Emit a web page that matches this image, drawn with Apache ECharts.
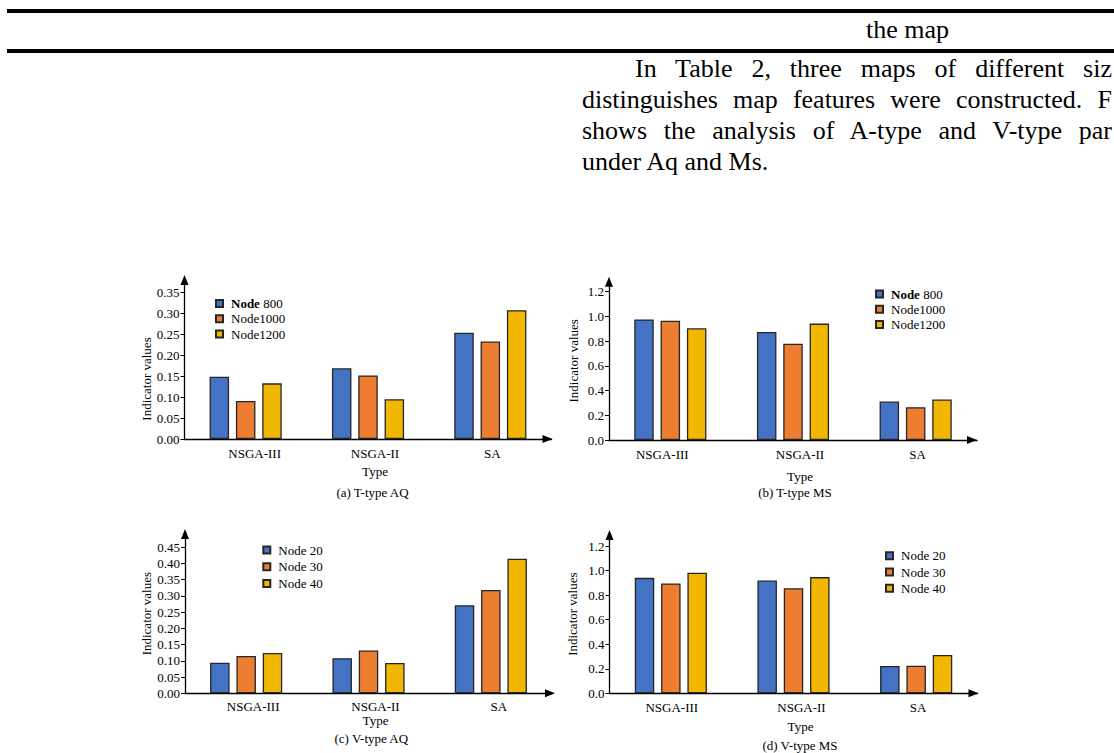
<!DOCTYPE html>
<html>
<head>
<meta charset="utf-8">
<title>Indicator values by type</title>
<script src="https://cdn.jsdelivr.net/npm/echarts@6/dist/echarts.min.js"></script>
<style>
  html, body { margin: 0; padding: 0; background: #fff; }
  body { width: 1114px; height: 753px; overflow: hidden; position: relative; }
  #chart { position: absolute; left: 0; top: 0; width: 1114px; height: 753px; }
  .rule { position: absolute; left: 7px; right: 0; height: 4px; background: #000; }
  .txt { position: absolute; font-family: "Liberation Serif", "Times New Roman", serif;
         font-size: 26px; line-height: 31px; color: #000; white-space: normal; }
  .just { text-align: justify; text-align-last: justify; }
</style>
</head>
<body>
<div id="chart"></div>

<!-- table rules and running text above the figure -->
<div class="rule" style="top:9px"></div>
<div class="txt" style="left:866px; top:14px;">the map</div>
<div class="rule" style="top:49px"></div>
<div class="txt just" style="left:635px; top:53px; width:477px;">In Table 2, three maps of different siz</div>
<div class="txt just" style="left:582px; top:84px; width:530px;">distinguishes map features were constructed. F</div>
<div class="txt just" style="left:582px; top:115px; width:530px;">shows the analysis of A-type and V-type par</div>
<div class="txt" style="left:582px; top:146px;">under Aq and Ms.</div>

<script>
// ---- data ----
const categories = ['NSGA-III', 'NSGA-II', 'SA'];

const tLegendNames = ['Node800', 'Node1000', 'Node1200'];
const vLegendNames = ['Node 20', 'Node 30', 'Node 40'];

// (a) T-type AQ
const tAqNode800  = [0.149, 0.169, 0.254];
const tAqNode1000 = [0.091, 0.152, 0.233];
const tAqNode1200 = [0.133, 0.095, 0.308];

// (b) T-type MS
const tMsNode800  = [0.975, 0.873, 0.311];
const tMsNode1000 = [0.965, 0.778, 0.265];
const tMsNode1200 = [0.903, 0.941, 0.327];

// (c) V-type AQ
const vAqNode20 = [0.094, 0.108, 0.271];
const vAqNode30 = [0.115, 0.132, 0.318];
const vAqNode40 = [0.124, 0.093, 0.414];

// (d) V-type MS
const vMsNode20 = [0.941, 0.919, 0.223];
const vMsNode30 = [0.895, 0.857, 0.225];
const vMsNode40 = [0.982, 0.947, 0.313];

// tick labels
const tAqTicks = [0, 0.05, 0.10, 0.15, 0.20, 0.25, 0.30, 0.35];
const vAqTicks = [0, 0.05, 0.10, 0.15, 0.20, 0.25, 0.30, 0.35, 0.40, 0.45];
const msTicks  = [0, 0.2, 0.4, 0.6, 0.8, 1.0, 1.2];

const captions = ['(a) T-type AQ', '(b) T-type MS', '(c) V-type AQ', '(d) V-type MS'];

// ---- styling / layout ----
const FONT = '"Liberation Serif", "Times New Roman", serif';
const INK = '#000';
const COLORS = ['#4472C4', '#ED7D31', '#F2B700'];

const panels = [
  { names: tLegendNames, series: [tAqNode800, tAqNode1000, tAqNode1200], ticks: tAqTicks, step: 0.05, digits: 2, max: 0.38,
    grid: { left: 184.5, top: 280, width: 367, height: 159 },
    xArrow: -4, catShift: [9, 7, 2], labelMargin: 8, typeGap: 26,
    yNameGap: 30, yNamePad: [0, 39, 0, 0],
    legend: { left: 215, top: 297, itemGap: 2.3 }, caption: [372.5, 492.7] },
  { names: tLegendNames, series: [tMsNode800, tMsNode1000, tMsNode1200], ticks: msTicks, step: 0.2, digits: 1, max: 1.28,
    grid: { left: 609, top: 281.7, width: 368, height: 158.3 },
    xArrow: -5, catShift: [-8, 7, 2], labelMargin: 7.5, typeGap: 30,
    yNameGap: 29, yNamePad: [0, 0, 0, 0],
    legend: { left: 875, top: 287.5, itemGap: 2.3 }, caption: [795, 492.7] },
  { names: vLegendNames, series: [vAqNode20, vAqNode30, vAqNode40], ticks: vAqTicks, step: 0.05, digits: 2, max: 0.49,
    grid: { left: 185, top: 534, width: 367, height: 159.3 },
    xArrow: -2, catShift: [7, 7, 8], labelMargin: 7, typeGap: 21,
    yNameGap: 31, yNamePad: [0, 0, 0, 0],
    legend: { left: 262.3, top: 543.5, itemGap: 3.8 }, caption: [371.3, 738.3] },
  { names: vLegendNames, series: [vMsNode20, vMsNode30, vMsNode40], ticks: msTicks, step: 0.2, digits: 1, max: 1.29,
    grid: { left: 609.5, top: 535, width: 368, height: 158.3 },
    xArrow: -4, catShift: [1, 8, 2], labelMargin: 8, typeGap: 27,
    yNameGap: 31, yNamePad: [0, 0, 0, 0],
    legend: { left: 885, top: 549.2, itemGap: 3.3 }, caption: [800, 745.2] }
];

function shiftedLabels(shifts) {
  // category labels nudged sideways with asymmetric padding
  return categories.map((c, i) => {
    const s = shifts[i];
    const pad = s >= 0 ? [0, 0, 0, 2 * s] : [0, -2 * s, 0, 0];
    return { value: c, textStyle: { padding: pad } };
  });
}

const option = {
  animation: false,
  backgroundColor: '#fff',
  grid: [], xAxis: [], yAxis: [], series: [], legend: [], graphic: []
};

panels.forEach((p, i) => {
  option.grid.push(Object.assign({ outerBoundsMode: 'none', containLabel: false }, p.grid));

  option.xAxis.push({
    type: 'category', gridIndex: i, data: shiftedLabels(p.catShift),
    axisTick: { show: false },
    axisLine: { show: true, lineStyle: { color: INK, width: 1.3 },
                symbol: ['none', 'triangle'], symbolSize: [8, 10], symbolOffset: [0, p.xArrow] },
    axisLabel: { fontFamily: FONT, fontSize: 13, color: INK, margin: p.labelMargin },
    name: 'Type', nameLocation: 'middle', nameGap: p.typeGap,
    nameTextStyle: { fontFamily: FONT, fontSize: 13, color: INK, padding: [0, 0, 0, 14] }
  });

  option.yAxis.push({
    type: 'value', gridIndex: i, min: 0, max: p.max, interval: p.step,
    axisLine: { show: true, lineStyle: { color: INK, width: 1.3 },
                symbol: ['none', 'triangle'], symbolSize: [8, 10] },
    axisTick: { show: true, inside: false, length: 4, customValues: p.ticks, lineStyle: { color: INK, width: 1 } },
    axisLabel: { customValues: p.ticks, formatter: v => v.toFixed(p.digits),
                 fontFamily: FONT, fontSize: 13, color: INK, margin: 5 },
    splitLine: { show: false },
    name: 'Indicator values', nameLocation: 'middle', nameRotate: 90, nameGap: p.yNameGap,
    nameTextStyle: { fontFamily: FONT, fontSize: 13, color: INK, padding: p.yNamePad }
  });

  p.series.forEach((vals, k) => {
    option.series.push({
      type: 'bar', name: p.names[k], xAxisIndex: i, yAxisIndex: i, data: vals,
      barWidth: 19.5, barGap: '35%',
      itemStyle: { color: COLORS[k], borderColor: '#262626', borderWidth: 1.3 },
      emphasis: { disabled: true }
    });
  });

  option.legend.push({
    orient: 'vertical', left: p.legend.left, top: p.legend.top, itemGap: p.legend.itemGap,
    itemWidth: 7, itemHeight: 7, icon: 'rect', selectedMode: false, padding: 0,
    data: p.names,
    formatter: name => (name === 'Node800' ? '{b|Node} 800' : name),
    textStyle: { fontFamily: FONT, fontSize: 13, color: INK, lineHeight: 13, padding: [0, 0, 0, 3],
                 rich: { b: { fontFamily: FONT, fontSize: 13, fontWeight: 'bold', color: INK, lineHeight: 13 } } }
  });

  option.graphic.push({
    type: 'text', x: p.caption[0], y: p.caption[1], silent: true,
    style: { text: captions[i], fontFamily: FONT, fontSize: 13, fill: INK,
             textAlign: 'center', textVerticalAlign: 'middle' }
  });
});

const chart = echarts.init(document.getElementById('chart'), null, { renderer: 'svg' });
chart.setOption(option);
</script>
</body>
</html>
